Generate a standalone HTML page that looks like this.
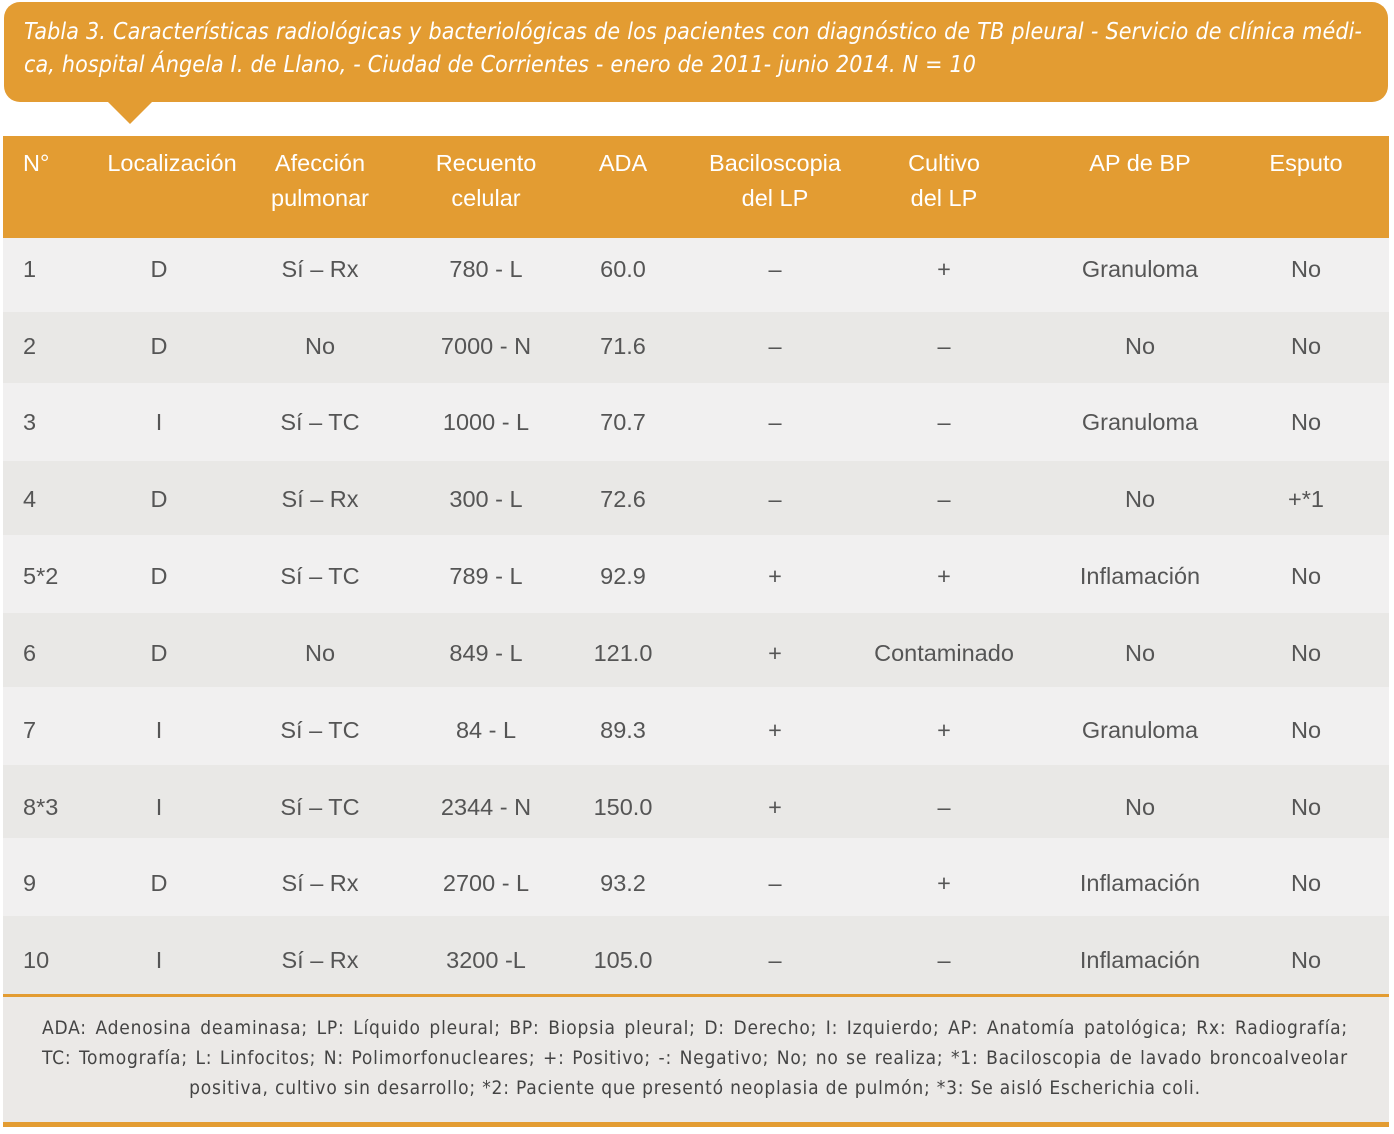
<!DOCTYPE html>
<html><head><meta charset="utf-8"><style>
body{margin:0;width:1394px;height:1134px;background:#fff;position:relative;font-family:"Liberation Sans",sans-serif;overflow:hidden}
.t{position:absolute;left:4px;top:2px;width:1384px;height:100px;background:#e39c32;border-radius:16px}
.tri{position:absolute;left:106px;top:100px;width:0;height:0;border-left:24px solid transparent;border-right:24px solid transparent;border-top:24px solid #e39c32}
.tl{position:absolute;left:24px;color:#fff;font-style:italic;font-size:23px;letter-spacing:0.1px;line-height:33px;font-family:"DejaVu Sans Condensed","DejaVu Sans",sans-serif;text-align:justify;text-align-last:justify;white-space:nowrap}
.hd{position:absolute;left:3px;top:136px;width:1386px;height:102px;background:#e39c32}
.r{position:absolute;left:3px;width:1386px}
.c{position:absolute;transform:translateX(-50%);white-space:nowrap;text-align:center}
.h{color:#fff;font-size:23.5px;line-height:35px;top:146px}
.b{color:#555;font-size:23.5px}
.ft{position:absolute;left:3px;top:997px;width:1386px;height:125px;background:#ebe9e7}
.fl{position:absolute;left:42px;width:1306px;text-align:justify;text-align-last:justify;font-size:19px;letter-spacing:0.8px;line-height:30px;color:#444;font-family:"DejaVu Sans Condensed","DejaVu Sans",sans-serif;white-space:nowrap}
</style></head><body>
<div class="t"></div><div class="tri"></div>
<div class="tl" style="top:16px;width:1338px">Tabla 3. Características radiológicas y bacteriológicas de los pacientes con diagnóstico de TB pleural - Servicio de clínica médi-</div>
<div class="tl" style="top:49px;width:952px">ca, hospital Ángela I. de Llano, - Ciudad de Corrientes - enero de 2011- junio 2014. N = 10</div>
<div class="hd"></div>
<div class="h" style="position:absolute;left:23px;top:146px;color:#fff;line-height:35px">N°</div>
<div class="c h" style="left:172px">Localización</div>
<div class="c h" style="left:320px">Afección<br>pulmonar</div>
<div class="c h" style="left:486px">Recuento<br>celular</div>
<div class="c h" style="left:623px">ADA</div>
<div class="c h" style="left:775px">Baciloscopia<br>del LP</div>
<div class="c h" style="left:944px">Cultivo<br>del LP</div>
<div class="c h" style="left:1140px">AP de BP</div>
<div class="c h" style="left:1306px">Esputo</div>
<div class="r" style="top:238px;height:74px;background:#f1f0f0"></div>
<div class="r" style="top:312px;height:71px;background:#e9e8e6"></div>
<div class="r" style="top:383px;height:78px;background:#f1f0f0"></div>
<div class="r" style="top:461px;height:74px;background:#e9e8e6"></div>
<div class="r" style="top:535px;height:78px;background:#f1f0f0"></div>
<div class="r" style="top:613px;height:74px;background:#e9e8e6"></div>
<div class="r" style="top:687px;height:78px;background:#f1f0f0"></div>
<div class="r" style="top:765px;height:73px;background:#e9e8e6"></div>
<div class="r" style="top:838px;height:78px;background:#f1f0f0"></div>
<div class="r" style="top:916px;height:78px;background:#e9e8e6"></div>
<div class="r" style="top:994px;height:3px;background:#e39c32"></div>
<div class="ft"></div>
<div class="r" style="top:1122px;height:5px;background:#e39c32"></div>
<div class="fl" style="top:1013px">ADA: Adenosina deaminasa; LP: Líquido pleural; BP: Biopsia pleural; D: Derecho; I: Izquierdo; AP: Anatomía patológica; Rx: Radiografía;</div>
<div class="fl" style="top:1043px">TC: Tomografía; L: Linfocitos; N: Polimorfonucleares; +: Positivo; -: Negativo; No; no se realiza; *1: Baciloscopia de lavado broncoalveolar</div>
<div class="fl" style="top:1073px;text-align:center;text-align-last:center">positiva, cultivo sin desarrollo; *2: Paciente que presentó neoplasia de pulmón; *3: Se aisló Escherichia coli.</div>
<div id="rows"></div>
<script>
var d=[["1","D","Sí – Rx","780 - L","60.0","–","+","Granuloma","No"],
["2","D","No","7000 - N","71.6","–","–","No","No"],
["3","I","Sí – TC","1000 - L","70.7","–","–","Granuloma","No"],
["4","D","Sí – Rx","300 - L","72.6","–","–","No","+*1"],
["5*2","D","Sí – TC","789 - L","92.9","+","+","Inflamación","No"],
["6","D","No","849 - L","121.0","+","Contaminado","No","No"],
["7","I","Sí – TC","84 - L","89.3","+","+","Granuloma","No"],
["8*3","I","Sí – TC","2344 - N","150.0","+","–","No","No"],
["9","D","Sí – Rx","2700 - L","93.2","–","+","Inflamación","No"],
["10","I","Sí – Rx","3200 -L","105.0","–","–","Inflamación","No"]];
var ys=[269,346,422,499,576,653,730,807,883,960],xs=[0,159,320,486,623,775,944,1140,1306],h="";
d.forEach(function(r,i){r.forEach(function(v,j){var t=ys[i]-14;
if(j==0)h+='<div class="b" style="position:absolute;left:23px;top:'+t+'px;line-height:28px">'+v+'</div>';
else h+='<div class="c b" style="left:'+xs[j]+'px;top:'+t+'px;line-height:28px">'+v+'</div>';});});
document.getElementById("rows").innerHTML=h;
</script>
</body></html>
